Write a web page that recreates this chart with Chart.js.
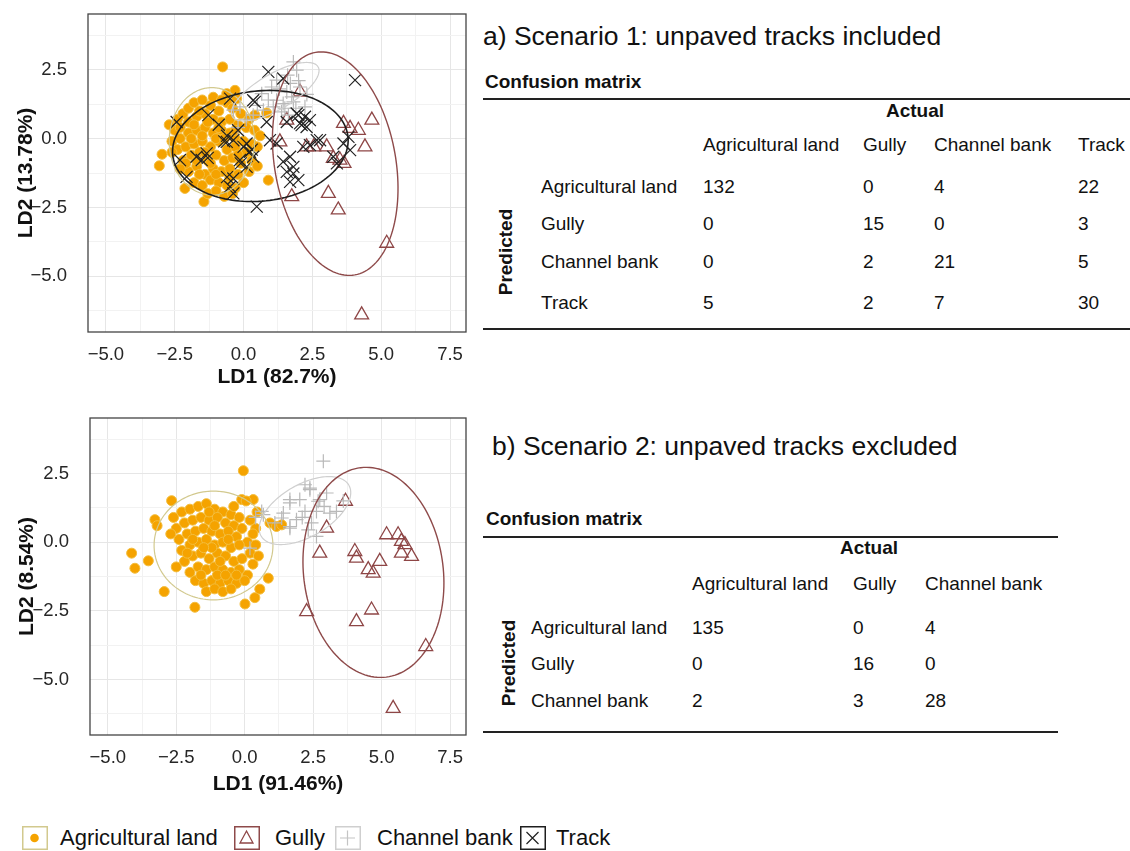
<!DOCTYPE html>
<html>
<head>
<meta charset="utf-8">
<script src="https://cdn.jsdelivr.net/npm/chart.js@4.4.1/dist/chart.umd.min.js"></script>
<style>
body { margin: 0; background: #fff; font-family: "Liberation Sans", Arial, sans-serif; color: #111; }
#page { position: relative; width: 1130px; height: 851px; overflow: hidden; }
canvas { position: absolute; left: 0; }
.t { position: absolute; white-space: nowrap; line-height: 1; transform: translateY(-50%); }
.c { transform: translate(-50%, -50%); }
.b { font-weight: bold; }
.rule { position: absolute; height: 0; border-top: 2px solid #222; }
</style>
</head>
<body>
<div id="page">
  <canvas id="ldaS1" width="470" height="400" style="top:0"></canvas>
  <canvas id="ldaS2" width="470" height="400" style="top:400px"></canvas>
  <div id="tables"></div>
  <div id="legend"></div>
</div>
<script>
// classes
const classes = ['Agricultural land', 'Gully', 'Channel bank', 'Track'];

// axis ticks (LD1 / LD2)
const ticksX = [-5, -2.5, 0, 2.5, 5, 7.5];
const ticksY = [-5, -2.5, 0, 2.5];
const gridX = [-5, -3.75, -2.5, -1.25, 0, 1.25, 2.5, 3.75, 5, 6.25, 7.5];
const gridY = [-6.25, -5, -3.75, -2.5, -1.25, 0, 1.25, 2.5, 3.75];

// scenario 1 scores [LD1, LD2]
const agriS1 = [
  [-0.76,2.6],[-2.96,-0.57],[-3.06,-0.99],[-2.13,-1.81],[-1.44,-2.29],[0.9,-1.51],[0.84,0.93],[-0.61,1.63],[-0.31,1.75],[-0.25,1.45],[0.41,0.85],
  [-2.4,0.7],[-2.2,0.9],[-2.0,1.1],[-1.8,1.3],[-1.5,1.4],[-1.2,1.2],[-0.9,1.0],[-0.6,1.3],[-0.4,1.1],[-0.1,0.9],[0.2,0.7],
  [-2.5,0.3],[-2.3,0.4],[-2.0,0.6],[-1.7,0.8],[-1.4,0.9],[-1.1,0.7],[-0.8,0.6],[-0.5,0.7],[-0.2,0.5],[0.1,0.4],[0.4,0.3],
  [-2.6,-0.1],[-2.3,0.0],[-2.0,0.2],[-1.7,0.3],[-1.4,0.4],[-1.1,0.2],[-0.8,0.3],[-0.5,0.2],[-0.3,0.0],[0.0,-0.1],[0.3,-0.2],
  [-2.4,-0.4],[-2.1,-0.3],[-1.8,-0.2],[-1.5,-0.1],[-1.2,-0.3],[-0.9,-0.1],[-0.6,-0.4],[-0.3,-0.3],[0.1,-0.5],[0.5,-0.3],
  [-2.2,-0.8],[-1.9,-0.6],[-1.6,-0.5],[-1.3,-0.8],[-1.0,-0.6],[-0.7,-0.8],[-0.4,-0.7],[-0.1,-0.9],[0.3,-0.8],
  [-2.0,-1.2],[-1.7,-1.0],[-1.4,-1.3],[-1.1,-1.1],[-0.8,-1.2],[-0.5,-1.1],[-0.2,-1.3],[0.2,-1.2],
  [-1.8,-1.6],[-1.5,-1.7],[-1.2,-1.5],[-0.9,-1.6],[-0.6,-1.7],[-0.3,-1.8],[0.0,-1.6],
  [-1.3,-2.0],[-1.0,-1.9],[-0.7,-2.1],[-0.4,-2.0],
  [-1.6,1.0],[-1.3,0.6],[-1.9,0.0],[-1.0,0.0],[-0.7,0.0],[-1.2,-0.9],[-1.5,0.1],[-0.9,0.4],[-2.1,-0.9],[-0.5,-1.4],
  [-1.6,-1.3],[-1.0,-1.3],[-0.3,0.3],[-1.8,0.5],[-2.7,0.5],[-2.6,-0.5],[-1.1,1.5],[-0.8,1.4],[0.6,0.1],[0.5,-1.0],
  [-1.4,-0.5],[-0.2,-0.6],[-1.7,-0.8],[-2.3,-1.1]
];
const gullyS1 = [
  [2.05,1.69],[1.57,0.67],[1.32,-0.12],[2.29,-0.3],[2.55,-0.3],[3.02,-0.3],[3.26,-0.72],[3.5,-0.78],[3.65,-0.9],[3.63,0.55],
  [3.87,0.37],[4.17,0.3],[4.66,0.67],[4.41,-0.3],[1.75,-2.11],[3.08,-1.99],[3.44,-2.59],[5.2,-3.8],[4.29,-6.4]
];
const channelS1 = [
  [1.81,2.78],[1.93,2.48],[1.2,2.12],[1.02,1.87],[1.57,1.69],[1.75,1.51],[1.81,1.33],[1.44,1.27],[1.08,1.15],[0.72,1.03],
  [1.38,0.97],[1.63,0.85],[2.05,1.87],[2.23,1.15],[-0.13,1.15],[-0.37,1.03],[0.35,0.85],[0.66,1.63],[1.2,1.39],[1.6,2.3],
  [2.0,2.1],[1.3,1.8],[1.9,1.1],[0.9,1.4],[1.5,1.1],[2.3,1.6],[0.1,0.7],[-0.2,0.4],[0.5,1.2],[1.7,2.0]
];
const trackS1 = [
  [0.9,2.42],[1.44,2.18],[4.05,2.12],[-0.49,1.45],[0.35,1.39],[0.41,1.33],[-2.43,0.6],[-1.28,0.85],[0.84,0.6],[1.57,0.6],
  [1.93,0.91],[1.99,0.85],[2.23,0.79],[2.05,0.55],[2.41,0.67],[2.11,0.49],[2.29,0.42],
  [-0.61,-0.12],[-0.37,-0.06],[0.11,-0.18],[0.96,-0.06],[1.2,-0.18],[2.66,-0.06],[2.17,-0.3],[2.41,-0.24],[2.78,-0.06],
  [3.63,-0.18],[3.81,0.06],[3.87,-0.42],[3.26,-0.66],[3.39,-0.9],
  [1.69,-0.66],[1.44,-0.84],[1.81,-1.03],[1.57,-1.21],[1.99,-1.51],[1.69,-1.57],[1.81,-1.27],[0.48,-2.47],[-0.37,-1.99],
  [-0.49,-1.75],[-0.37,-1.45],[-2.07,-1.39],[-1.71,-0.66],[-1.52,-0.78],[-1.34,-0.54],[-2.31,-0.78],[0.23,-0.48],[0.35,-0.66],
  [-0.13,-0.78],[0.11,-1.03],[-0.7,-0.1],[-0.6,0.1],[-0.9,0.5],[-0.2,0.3],[0.0,-0.3],[0.3,-0.4],[-0.1,-0.9],[-0.6,-1.4],[-1.3,-0.7]
];

// scenario 2 scores [LD1, LD2]
const agriS2 = [
  [-0.05,2.6],[-4.13,-0.4],[-4.01,-0.95],[-3.52,-0.68],[-2.94,-1.8],[-1.82,-2.37],[0.01,-2.25],[0.37,-2.02],[0.55,-1.71],[0.86,-1.31],
  [-2.67,1.51],[-3.28,0.82],[-3.2,0.6],[-0.11,1.55],[0.31,1.55],[0.05,1.5],[0.92,0.7],[1.16,0.57],[1.35,0.63],[0.45,1.1],[0.4,0.5],
  [-2.6,0.9],[-2.3,1.1],[-2.0,1.2],[-1.7,1.3],[-1.4,1.4],[-1.1,1.2],[-0.8,1.1],[-0.5,1.0],[-0.2,0.9],
  [-2.5,0.5],[-2.2,0.7],[-1.9,0.8],[-1.6,0.9],[-1.3,0.8],[-1.0,0.9],[-0.7,0.7],[-0.4,0.6],[-0.1,0.5],[0.3,0.3],
  [-2.4,0.1],[-2.1,0.3],[-1.8,0.4],[-1.5,0.5],[-1.2,0.4],[-0.9,0.3],[-0.6,0.4],[-0.3,0.2],[0.1,0.0],[0.4,-0.1],
  [-2.3,-0.3],[-2.0,-0.1],[-1.7,0.0],[-1.4,0.1],[-1.1,-0.1],[-0.8,0.0],[-0.5,-0.2],[-0.2,-0.1],[0.2,-0.4],
  [-2.2,-0.7],[-1.9,-0.5],[-1.6,-0.4],[-1.3,-0.6],[-1.0,-0.4],[-0.7,-0.5],[-0.4,-0.7],[-0.1,-0.6],[0.3,-0.8],
  [-2.0,-1.1],[-1.7,-0.9],[-1.4,-1.0],[-1.1,-0.9],[-0.8,-1.0],[-0.5,-1.1],[-0.2,-1.0],[0.1,-1.2],
  [-1.8,-1.4],[-1.5,-1.5],[-1.2,-1.4],[-0.9,-1.5],[-0.6,-1.4],[-0.3,-1.5],[0.0,-1.4],
  [-1.4,-1.8],[-1.1,-1.7],[-0.8,-1.8],[-0.5,-1.7],
  [-1.2,-0.2],[-1.5,-0.2],[-0.9,-0.7],[-1.9,0.1],[-0.6,0.1],[-1.3,1.1],[-2.1,-0.4],[-1.0,-1.2],[-0.3,-1.2],[-1.6,-1.2],
  [-0.4,1.3],[-2.7,0.3],[-2.5,-0.9],[-1.1,0.6],[-0.7,-1.2],[0.2,0.8],[0.5,-0.5]
];
const gullyS2 = [
  [3.68,1.49],[2.99,0.51],[2.74,-0.4],[5.18,0.27],[5.6,0.27],[5.72,0.03],[5.85,-0.09],[5.72,-0.4],[6.09,-0.52],[4.02,-0.34],
  [4.08,-0.58],[4.93,-0.7],[4.51,-1.0],[4.69,-1.13],[4.63,-2.47],[4.08,-2.89],[2.26,-2.53],[6.61,-3.8],[5.42,-6.05]
];
const channelS2 = [
  [2.87,2.95],[2.38,1.97],[2.99,1.79],[2.68,1.49],[2.01,1.55],[1.65,1.43],[3.35,1.12],[2.62,1.12],[2.2,1.12],[1.41,1.06],
  [1.89,0.82],[1.65,0.57],[1.35,0.88],[2.44,0.7],[0.62,1.12],[2.62,0.21],[2.32,0.45],[0.68,1.0],[1.65,1.55],[2.38,1.91],
  [2.2,2.09],[3.11,1.06],[2.74,1.55],[1.65,0.51],[0.19,-0.22],[2.9,1.3],[2.1,0.9],[1.1,0.7],[3.6,1.5],[0.4,0.9]
];

// 95% ellipses: class, centre, semi-axes, rotation (deg)
const ellipsesS1 = [
  { cls: 0, cx: -1.15, cy: -0.1, a: 1.55, b: 1.95, angle: 0 },
  { cls: 3, cx: 0.61, cy: -0.27, a: 3.2, b: 2.0, angle: 6 },
  { cls: 2, cx: 1.15, cy: 1.7, a: 1.8, b: 0.65, angle: 30 },
  { cls: 1, cx: 3.33, cy: -0.91, a: 4.1, b: 2.2, angle: -80 }
];
const ellipsesS2 = [
  { cls: 0, cx: -1.14, cy: -0.12, a: 2.17, b: 1.98, angle: 0 },
  { cls: 2, cx: 2.2, cy: 1.15, a: 1.85, b: 0.95, angle: 30 },
  { cls: 1, cx: 4.7, cy: -1.1, a: 3.84, b: 2.55, angle: -83 }
];

// confusion matrices (rows predicted, columns actual)
const matrixS1 = [[132, 0, 4, 22], [0, 15, 0, 3], [0, 2, 21, 5], [5, 2, 7, 30]];
const matrixS2 = [[135, 0, 4], [0, 16, 0], [2, 3, 28]];

// styles
const pointStyle = [
  { pointStyle: 'circle', radius: 5, backgroundColor: '#f5a300', borderColor: '#f3bd3c', borderWidth: 1, order: 4 },
  { pointStyle: 'triangle', radius: 8, backgroundColor: 'rgba(0,0,0,0)', borderColor: '#8e4646', borderWidth: 1.3, order: 3 },
  { pointStyle: 'cross', radius: 7, backgroundColor: 'rgba(0,0,0,0)', borderColor: '#b9b9b9', borderWidth: 1.2, order: 2 },
  { pointStyle: 'crossRot', radius: 8.5, backgroundColor: 'rgba(0,0,0,0)', borderColor: '#222', borderWidth: 1.2, order: 1 }
];
const ellipseColor = ['#d2c98e', '#8e4a4a', '#cfcfcf', '#1e1e1e'];
const ellipseWidth = [1.2, 1.4, 1.2, 1.6];

const fmt = v => (v < 0 ? '\u2212' : '') + Math.abs(v).toFixed(1);

const ellipsePlugin = {
  id: 'ellipses',
  afterDatasetsDraw(chart, args, opts) {
    const { ctx, chartArea: ca, scales: { x, y } } = chart;
    ctx.save();
    ctx.beginPath();
    ctx.rect(ca.left, ca.top, ca.right - ca.left, ca.bottom - ca.top);
    ctx.clip();
    opts.list.forEach(e => {
      const th = e.angle * Math.PI / 180;
      ctx.beginPath();
      for (let i = 0; i <= 144; i++) {
        const t = i / 144 * 2 * Math.PI;
        const dx = e.a * Math.cos(t), dy = e.b * Math.sin(t);
        const px = x.getPixelForValue(e.cx + dx * Math.cos(th) - dy * Math.sin(th));
        const py = y.getPixelForValue(e.cy + dx * Math.sin(th) + dy * Math.cos(th));
        if (i === 0) ctx.moveTo(px, py); else ctx.lineTo(px, py);
      }
      ctx.strokeStyle = ellipseColor[e.cls];
      ctx.lineWidth = ellipseWidth[e.cls];
      ctx.stroke();
    });
    ctx.restore();
  }
};

const framePlugin = {
  id: 'frame',
  afterDraw(chart) {
    const { ctx, chartArea: ca } = chart;
    ctx.save();
    ctx.strokeStyle = '#444';
    ctx.lineWidth = 1.3;
    ctx.strokeRect(ca.left, ca.top, ca.right - ca.left, ca.bottom - ca.top);
    ctx.restore();
  }
};

function ldaChart(id, series, ellipses, xTitle, yTitle, box) {
  const datasets = series.map(s => Object.assign({
    label: classes[s.cls],
    data: s.data.map(p => ({ x: p[0], y: p[1] }))
  }, pointStyle[s.cls]));
  const gridColor = vals => c => (c.tick && vals.includes(c.tick.value)) ? '#e6e6e6' : '#f2f2f2';
  new Chart(document.getElementById(id), {
    type: 'scatter',
    data: { datasets: datasets },
    options: {
      responsive: false,
      animation: false,
      layout: { autoPadding: false, padding: { left: 0, top: box.top, right: 470 - box.right, bottom: 0 } },
      plugins: { legend: { display: false }, tooltip: { enabled: false }, ellipses: { list: ellipses } },
      scales: {
        x: {
          type: 'linear', min: -5.65, max: 8.08,
          afterBuildTicks: s => { s.ticks = gridX.map(v => ({ value: v })); },
          afterFit: s => { s.height = 400 - box.bottom; s.paddingLeft = 0; s.paddingRight = 0; },
          grid: { color: gridColor(ticksX), lineWidth: 1, drawTicks: false },
          border: { display: false },
          ticks: { autoSkip: false, maxRotation: 0, padding: 12, color: '#262626',
                   font: { size: 18.5, family: 'Liberation Sans' },
                   callback: v => ticksX.includes(v) ? fmt(v) : '' },
          title: { display: true, text: xTitle, color: '#111', padding: { top: 0, bottom: box.xTitlePad },
                   font: { size: 21, weight: 'bold', family: 'Liberation Sans' } }
        },
        y: {
          type: 'linear', min: -7.02, max: 4.52,
          afterBuildTicks: s => { s.ticks = gridY.map(v => ({ value: v })); },
          afterFit: s => { s.width = box.left; s.paddingTop = 0; s.paddingBottom = 0; },
          grid: { color: gridColor(ticksY), lineWidth: 1, drawTicks: false },
          border: { display: false },
          ticks: { autoSkip: false, padding: 21, color: '#262626',
                   font: { size: 18.5, family: 'Liberation Sans' },
                   callback: v => ticksY.includes(v) ? fmt(v) : '' },
          title: { display: true, text: yTitle, color: '#111', padding: { top: box.yTitlePad, bottom: 0 },
                   font: { size: 21, weight: 'bold', family: 'Liberation Sans' } }
        }
      }
    },
    plugins: [ellipsePlugin, framePlugin]
  });
}

ldaChart('ldaS1',
  [{ cls: 0, data: agriS1 }, { cls: 1, data: gullyS1 }, { cls: 2, data: channelS1 }, { cls: 3, data: trackS1 }],
  ellipsesS1, 'LD1 (82.7%)', 'LD2 (13.78%)',
  { left: 88, right: 466, top: 14, bottom: 332, xTitlePad: 10, yTitlePad: 14 });

ldaChart('ldaS2',
  [{ cls: 0, data: agriS2 }, { cls: 1, data: gullyS2 }, { cls: 2, data: channelS2 }],
  ellipsesS2, 'LD1 (91.46%)', 'LD2 (8.54%)',
  { left: 90, right: 466, top: 18, bottom: 335, xTitlePad: 3, yTitlePad: 15 });

// confusion matrix tables
function text(parent, str, x, y, cls, size) {
  const d = document.createElement('div');
  d.className = 't ' + (cls || '');
  d.textContent = str;
  d.style.left = x + 'px';
  d.style.top = y + 'px';
  d.style.fontSize = size + 'px';
  parent.appendChild(d);
  return d;
}
function rule(parent, x1, x2, y) {
  const d = document.createElement('div');
  d.className = 'rule';
  d.style.left = x1 + 'px';
  d.style.width = (x2 - x1) + 'px';
  d.style.top = (y - 1) + 'px';
  parent.appendChild(d);
}
function matrixTable(spec) {
  const root = document.getElementById('tables');
  text(root, spec.title, spec.titleX, spec.titleY, '', 26.5);
  text(root, 'Confusion matrix', spec.confX, spec.confY, 'b', 19);
  rule(root, spec.ruleX1, spec.ruleX2, spec.ruleTop);
  text(root, 'Actual', spec.actualX, spec.actualY, 'b c', 19);
  spec.cols.forEach((c, j) => text(root, c, spec.colX[j], spec.headY, '', 19));
  spec.cols.forEach((r, i) => {
    text(root, r, spec.rowLabelX, spec.rowY[i], '', 19);
    spec.matrix[i].forEach((v, j) => text(root, String(v), spec.colX[j], spec.rowY[i], '', 19));
  });
  const p = text(root, 'Predicted', spec.predX, spec.predY, 'b', 19);
  p.style.transform = 'translate(-50%, -50%) rotate(-90deg)';
  rule(root, spec.ruleX1, spec.ruleX2, spec.ruleBottom);
}

matrixTable({
  title: 'a) Scenario 1: unpaved tracks included', titleX: 483, titleY: 36,
  confX: 485, confY: 81, ruleX1: 483, ruleX2: 1130, ruleTop: 99,
  actualX: 915, actualY: 110, headY: 144,
  cols: classes, matrix: matrixS1,
  colX: [703, 863, 934, 1078], rowY: [186, 223, 261, 302], rowLabelX: 541,
  predX: 505, predY: 252, ruleBottom: 329
});
matrixTable({
  title: 'b) Scenario 2: unpaved tracks excluded', titleX: 492, titleY: 446,
  confX: 486, confY: 518, ruleX1: 483, ruleX2: 1058, ruleTop: 537,
  actualX: 869, actualY: 547, headY: 583,
  cols: classes.slice(0, 3), matrix: matrixS2,
  colX: [692, 853, 925], rowY: [627, 663, 700], rowLabelX: 531,
  predX: 508, predY: 663, ruleBottom: 732
});

// legend
const legendKeys = [
  '<circle cx="12.5" cy="12" r="4.3" fill="#f5a300"/>',
  '<polygon points="12.5,5 19,17 6,17" fill="none" stroke="#8e4646" stroke-width="1.3"/>',
  '<path d="M12.5 4.5V19.5M5 12H20" stroke="#c4c4c4" stroke-width="1.2"/>',
  '<path d="M6.5 6L18.5 18M18.5 6L6.5 18" stroke="#222" stroke-width="1.2"/>'
];
const legendBoxX = [22, 234, 335, 520];
const legendTextX = [60, 275, 377, 556];
const legendRoot = document.getElementById('legend');
classes.forEach((c, i) => {
  const k = document.createElement('div');
  k.style.cssText = 'position:absolute;top:826px;left:' + legendBoxX[i] + 'px';
  k.innerHTML = '<svg width="26" height="24"><rect x="0.75" y="0.75" width="24.5" height="22.5" fill="#fff" stroke="' +
    ellipseColor[i] + '" stroke-width="1.5"/>' + legendKeys[i] + '</svg>';
  legendRoot.appendChild(k);
  text(legendRoot, c, legendTextX[i], 838, '', 22);
});
</script>
</body>
</html>
